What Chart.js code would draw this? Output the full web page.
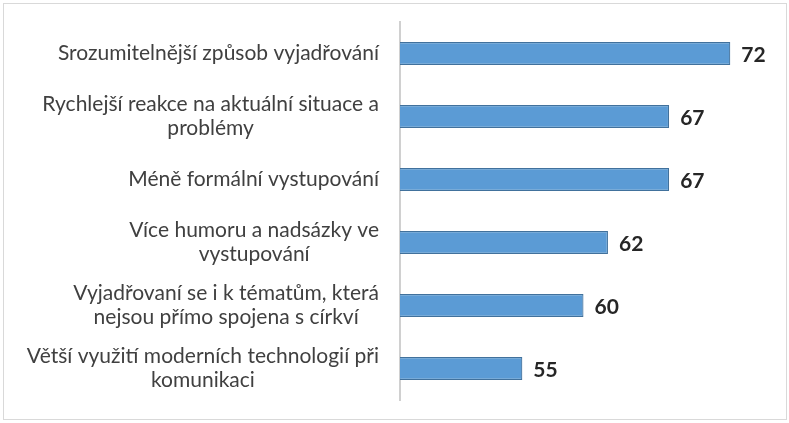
<!DOCTYPE html>
<html>
<head>
<meta charset="utf-8">
<script src="https://cdn.jsdelivr.net/npm/chart.js@4/dist/chart.umd.min.js"></script>
<style>
  html, body { margin: 0; padding: 0; background: #fff; }
  #ramecek { position: absolute; left: 3px; top: 3px; width: 782px; height: 415px; border: 1px solid #d9d9d9; }
  #obal { position: absolute; left: 0; top: 0; width: 789px; height: 423px; }
</style>
</head>
<body>
<div id="ramecek"></div>
<div id="obal"><canvas id="graf"></canvas></div>
<script>
// Popisky kategorií (rozdělené na řádky jako v originále)
const kategorie = [
    ['Srozumitelnější způsob vyjadřování'],
    ['Rychlejší reakce na aktuální situace a', 'problémy'],
    ['Méně formální vystupování'],
    ['Více humoru a nadsázky ve', 'vystupování'],
    ['Vyjadřovaní se i k tématům, která', 'nejsou přímo spojena s církví'],
    ['Větší využití moderních technologií při', 'komunikaci']
];
// Hodnoty jednotlivých pruhů
const hodnoty = [72, 67, 67, 62, 60, 55];
// Rozsah osy X
const osaMin = 45;
const osaMax = 75;

const pismo = 'Lato, "Open Sans", sans-serif';

// Vlastní vykreslení popisků osy Y (řádky vystředěné, blok zarovnaný vpravo)
const popiskyOsy = {
    id: 'popiskyOsy',
    afterDraw(chart) {
        const { ctx } = chart;
        const osaY = chart.scales.y;
        const pravyOkraj = osaY.right - 21;
        const vyskaRadku = 24;
        ctx.save();
        ctx.font = '21px ' + pismo;
        ctx.fillStyle = '#404040';
        ctx.textAlign = 'center';
        ctx.textBaseline = 'middle';
        chart.data.labels.forEach((radky, i) => {
            const stred = osaY.getPixelForTick(i);
            const sirka = Math.max(...radky.map(r => ctx.measureText(r).width));
            const x = pravyOkraj - sirka / 2;
            const zacatek = stred - (radky.length - 1) * vyskaRadku / 2;
            radky.forEach((r, j) => ctx.fillText(r, x, zacatek + j * vyskaRadku));
        });
        ctx.restore();
    }
};

// Hodnoty na konci pruhů
const hodnotyPruhu = {
    id: 'hodnotyPruhu',
    afterDatasetsDraw(chart) {
        const { ctx } = chart;
        const meta = chart.getDatasetMeta(0);
        ctx.save();
        ctx.font = 'bold 21px ' + pismo;
        ctx.fillStyle = '#262626';
        ctx.textAlign = 'left';
        ctx.textBaseline = 'middle';
        meta.data.forEach((pruh, i) => {
            ctx.fillText(String(chart.data.datasets[0].data[i]), pruh.x + 11, pruh.y + 2);
        });
        ctx.restore();
    }
};

new Chart(document.getElementById('graf').getContext('2d'), {
    type: 'bar',
    data: {
        labels: kategorie,
        datasets: [{
            data: hodnoty,
            backgroundColor: '#5b9bd5',
            borderColor: '#41719c',
            borderWidth: 1.2,
            borderSkipped: 'left',
            barPercentage: 0.61,
            categoryPercentage: 0.6
        }]
    },
    options: {
        indexAxis: 'y',
        responsive: true,
        maintainAspectRatio: false,
        animation: false,
        layout: { padding: { left: 0, right: 22, top: 22, bottom: 23 } },
        plugins: {
            legend: { display: false },
            tooltip: { enabled: false }
        },
        scales: {
            x: {
                display: false,
                min: osaMin,
                max: osaMax
            },
            y: {
                grid: { display: false },
                border: { display: true, color: '#d0d0d0', width: 2 },
                ticks: { display: false },
                afterFit(scale) { scale.width = 400; }
            }
        }
    },
    plugins: [popiskyOsy, hodnotyPruhu]
});
</script>
</body>
</html>
